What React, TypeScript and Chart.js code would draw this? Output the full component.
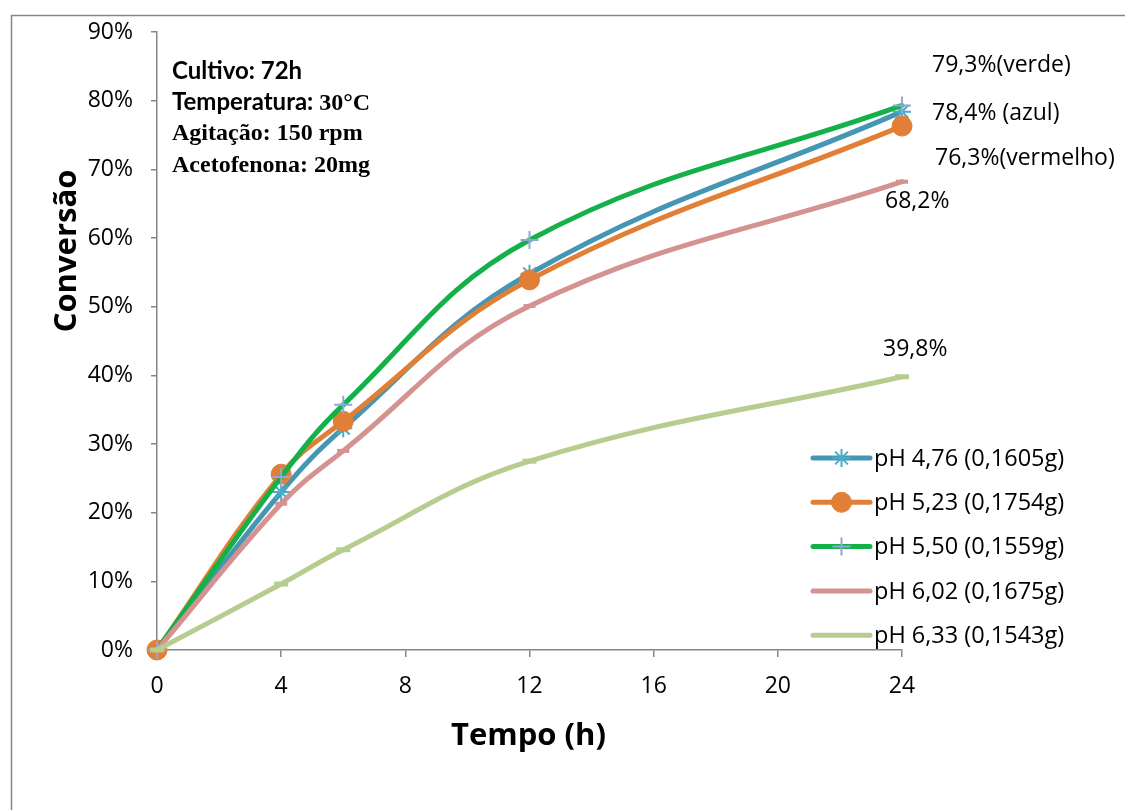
import React, { useEffect, useRef } from 'react';
import { Chart, registerables } from 'chart.js';
import { drawPoint } from 'chart.js/helpers';

Chart.register(...registerables);

// ---- data ----
const hours = [0, 4, 6, 12, 24];
const ph476 = [0, 23.0, 32.3, 54.8, 78.4];
const ph523 = [0, 25.6, 33.3, 53.9, 76.3];
const ph550 = [0, 25.2, 35.7, 59.7, 79.3];
const ph602 = [0, 21.3, 29.0, 50.1, 68.2];
const ph633 = [0, 9.6, 14.6, 27.5, 39.8];

const seriesLabels = [
  'pH 4,76 (0,1605g)',
  'pH 5,23 (0,1754g)',
  'pH 5,50 (0,1559g)',
  'pH 6,02 (0,1675g)',
  'pH 6,33 (0,1543g)',
];
const seriesValues = [ph476, ph523, ph550, ph602, ph633];

const xTickStep = 4;
const xMin = 0;
const xMax = 24;
const yMin = 0;
const yMax = 90;
const yTickStep = 10;

const xTitle = 'Tempo (h)';
const yTitle = 'Conversão';

const infoSans = ['Cultivo: 72h', 'Temperatura: '];
const infoTempValue = '30°C';
const infoSerif = ['Agitação: 150 rpm', 'Acetofenona: 20mg'];

const endLabels = ['78,4% (azul)', '76,3%(vermelho)', '79,3%(verde)', '68,2%', '39,8%'];

// ---- styles ----
const lineColors = ['#4596b4', '#e07f35', '#14b04a', '#d49290', '#b6cd8f'];
const pointColors = ['#4bacc6', '#e07f35', '#8fa8d6', '#d49290', '#b6cd8f'];
const pointStyles = ['star', 'circle', 'cross', 'line', 'line'];
const pointRadii = [9, 10, 9, 6, 7];
const pointBorderW = [2, 1, 2, 4, 5];
const drawOrder = [5, 4, 3, 2, 1];

const SANS = '"Open Sans", "Noto Sans", sans-serif';
const SERIF = '"Liberation Serif", "DejaVu Serif", serif';
const AXIS = '#868686';

const W = 1125;
const H = 802;
const AREA_TOP = 24;
const AREA_BOTTOM = 642;
const AREA_RIGHT = 894;

const overlayPlugin = {
  id: 'overlay',
  beforeDraw(chart: any) {
    const ctx = chart.ctx;
    ctx.save();
    ctx.fillStyle = '#ffffff';
    ctx.fillRect(0, 0, chart.width, chart.height);
    ctx.strokeStyle = AXIS;
    ctx.lineWidth = 1.5;
    ctx.beginPath();
    ctx.moveTo(3.5, chart.height + 10);
    ctx.lineTo(3.5, 7.5);
    ctx.lineTo(chart.width + 10, 7.5);
    ctx.stroke();
    ctx.restore();
  },
  afterDraw(chart: any) {
    const ctx = chart.ctx;
    const xs = chart.scales.x;
    const ys = chart.scales.y;
    ctx.save();
    ctx.fillStyle = '#000000';

    // axis titles
    ctx.font = `bold 31px ${SANS}`;
    ctx.textAlign = 'center';
    ctx.textBaseline = 'alphabetic';
    ctx.fillText(xTitle, (xs.left + xs.right) / 2 - 1, 737);
    ctx.save();
    ctx.translate(68, 243);
    ctx.rotate(-Math.PI / 2);
    ctx.fillText(yTitle, 0, 0);
    ctx.restore();

    // info text
    const ix = chart.chartArea.left + 15;
    ctx.textAlign = 'left';
    ctx.font = `bold 24px Lato, "Noto Sans", sans-serif`;
    ctx.fillText(infoSans[0], ix, 71);
    ctx.fillText(infoSans[1], ix, 102);
    const w1 = ctx.measureText(infoSans[1]).width;
    ctx.font = `bold 24px ${SERIF}`;
    ctx.fillText(infoTempValue, ix + w1, 102);
    ctx.fillText(infoSerif[0], ix, 132);
    ctx.fillText(infoSerif[1], ix, 164);

    // end labels
    ctx.font = `23px ${SANS}`;
    const px = xs.getPixelForValue(hours[hours.length - 1]);
    const last = (arr: number[]) => ys.getPixelForValue(arr[arr.length - 1]);
    ctx.fillText(endLabels[2], px + 30, last(ph550) - 33);
    ctx.fillText(endLabels[0], px + 30, last(ph476) + 8);
    ctx.fillText(endLabels[1], px + 33, last(ph523) + 39);
    ctx.fillText(endLabels[3], px - 17, last(ph602) + 26);
    ctx.fillText(endLabels[4], px - 19, last(ph633) - 21);

    // legend
    const lx0 = 805;
    const lx1 = 862;
    const ly0 = 450;
    const lstep = 44.3;
    ctx.textBaseline = 'middle';
    ctx.font = `23.5px ${SANS}`;
    for (let i = 0; i < seriesLabels.length; i++) {
      const y = ly0 + i * lstep;
      ctx.strokeStyle = lineColors[i];
      ctx.lineWidth = 5;
      ctx.lineCap = 'round';
      ctx.beginPath();
      ctx.moveTo(lx0, y);
      ctx.lineTo(lx1, y);
      ctx.stroke();
      if (i < 3) {
        ctx.lineCap = 'butt';
        ctx.strokeStyle = pointColors[i];
        ctx.fillStyle = pointColors[i];
        ctx.lineWidth = pointBorderW[i];
        drawPoint(ctx, { pointStyle: pointStyles[i], rotation: 0, radius: pointRadii[i], borderWidth: pointBorderW[i] }, (lx0 + lx1) / 2, y);
      }
      ctx.fillStyle = '#000000';
      ctx.fillText(seriesLabels[i], lx1 + 4, y + 1);
    }
    ctx.restore();
  },
};

export default function App() {
  const ref = useRef<HTMLCanvasElement | null>(null);
  useEffect(() => {
    if (!ref.current) return;
    const datasets = seriesValues.map((vals, i) => ({
      label: seriesLabels[i],
      data: hours.map((h, j) => ({ x: h, y: vals[j] })),
      borderColor: lineColors[i],
      backgroundColor: pointColors[i],
      borderWidth: 5,
      borderCapStyle: 'round' as const,
      borderJoinStyle: 'round' as const,
      tension: 0.4,
      pointStyle: pointStyles[i],
      pointRadius: pointRadii[i],
      pointBorderWidth: pointBorderW[i],
      pointBorderColor: pointColors[i],
      pointBackgroundColor: pointColors[i],
      order: drawOrder[i],
      clip: false as any,
      fill: false,
    }));
    const chart = new Chart(ref.current, {
      type: 'line',
      data: { datasets },
      options: {
        animation: false,
        responsive: false,
        events: [],
        layout: { padding: { left: 0, top: AREA_TOP, right: W - AREA_RIGHT, bottom: 0 } },
        plugins: { legend: { display: false }, tooltip: { enabled: false }, title: { display: false } },
        scales: {
          x: {
            type: 'linear',
            min: xMin,
            max: xMax,
            afterFit: (s: any) => { s.height = H - AREA_BOTTOM; s.paddingLeft = 0; s.paddingRight = 0; },
            ticks: { stepSize: xTickStep, color: '#000', font: { family: SANS, size: 23 }, padding: 16, maxRotation: 0 },
            grid: { display: true, drawOnChartArea: false, drawTicks: true, tickLength: 7, color: AXIS, lineWidth: 1.5 },
            border: { display: true, color: AXIS, width: 1.5 },
          },
          y: {
            type: 'linear',
            min: yMin,
            max: yMax,
            afterFit: (s: any) => { s.width = 149; s.paddingTop = 0; s.paddingBottom = 0; },
            ticks: { stepSize: yTickStep, color: '#000', font: { family: SANS, size: 23 }, padding: 18, callback: (v: any) => `${v}%` },
            grid: { display: true, drawOnChartArea: false, drawTicks: true, tickLength: 6, color: AXIS, lineWidth: 1.5 },
            border: { display: true, color: AXIS, width: 1.5 },
          },
        },
      },
      plugins: [overlayPlugin],
    });
    return () => chart.destroy();
  }, []);
  return (
    <div style={{ width: W, height: H }}>
      <canvas ref={ref} width={W} height={H} style={{ display: 'block', width: W, height: H }} />
    </div>
  );
}
